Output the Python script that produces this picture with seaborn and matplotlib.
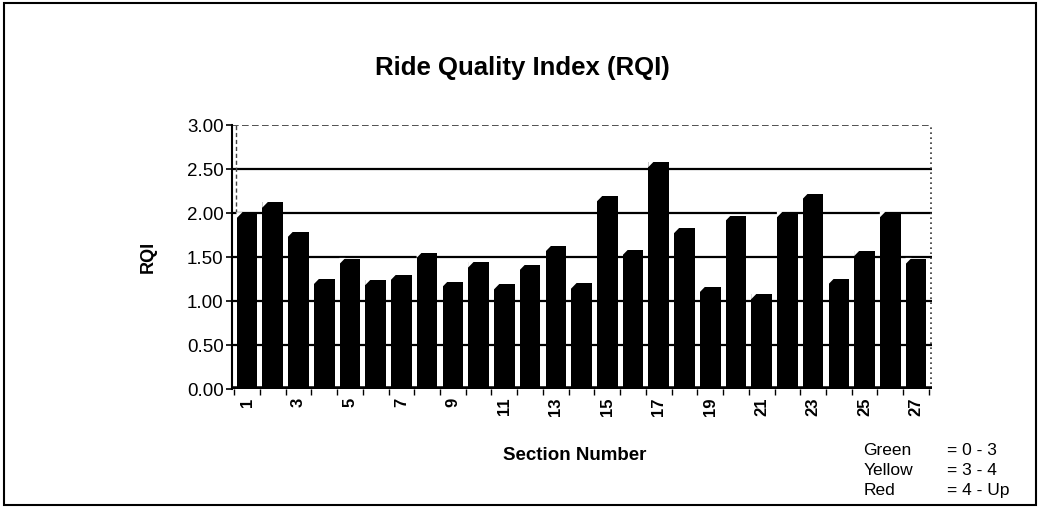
import matplotlib
matplotlib.use("Agg")
import matplotlib.pyplot as plt
from matplotlib.patches import Rectangle, Polygon
import seaborn as sns
import pandas as pd

# Ride Quality Index for each road section
sections = list(range(1, 28))
rqi = [2.00, 2.12, 1.79, 1.25, 1.48, 1.24, 1.30, 1.55, 1.22, 1.44,
       1.19, 1.41, 1.62, 1.20, 2.19, 1.58, 2.58, 1.83, 1.16, 1.97,
       1.08, 2.01, 2.22, 1.25, 1.57, 2.01, 1.48]
y_ticks = [0.0, 0.5, 1.0, 1.5, 2.0, 2.5, 3.0]
legend_names = ["Green", "Yellow", "Red"]
legend_ranges = ["= 0 - 3", "= 3 - 4", "= 4 - Up"]

df = pd.DataFrame({"Section": [str(s) for s in sections], "RQI": rqi})

sns.set_theme(style="white")
plt.rcParams["font.family"] = ["Liberation Sans", "DejaVu Sans"]
plt.rcParams["text.color"] = "black"
plt.rcParams["axes.labelcolor"] = "black"
plt.rcParams["xtick.color"] = "black"
plt.rcParams["ytick.color"] = "black"

fig = plt.figure(figsize=(10.4, 5.07), dpi=100)
ax = fig.add_axes([0.2231, 0.2327, 0.6731, 0.5207])

sns.barplot(data=df, x="Section", y="RQI", color="black", saturation=1,
            width=0.8, edgecolor="black", linewidth=0, ax=ax, zorder=3)

# bevelled top-left corner on each bar (pseudo 3-D look)
for p in ax.patches:
    x0, h, w = p.get_x(), p.get_height(), p.get_width()
    tri = Polygon([(x0 - 0.01, h + 0.01), (x0 + w * 0.28, h + 0.01),
                   (x0 - 0.01, h - 0.06)], closed=True,
                  facecolor="white", edgecolor="none", zorder=4)
    ax.add_patch(tri)

# back-wall gridlines
for v in y_ticks[1:-1]:
    ax.axhline(v, color="black", lw=1.6, zorder=1)
ax.axhline(y_ticks[-1], color="#333333", lw=1.2, ls=(0, (4, 2)), zorder=1)
ax.axhline(0, color="black", lw=4, zorder=5)

ax.set_xlim(-0.583, 26.62)
ax.set_ylim(0, 3.0)
ax.axvline(26.56, color="#333333", lw=1.2, ls=(0, (1, 2)), zorder=1)
ax.plot([-0.42, -0.42], [2.0, 3.0], color="#444444", lw=1.0,
        ls=(0, (3, 2)), zorder=1)

ax.set_yticks(y_ticks)
ax.set_yticklabels([f"{v:.2f}" for v in y_ticks], fontsize=13.5)
ax.tick_params(axis="y", direction="out", length=4, width=1.2,
               color="black", pad=2, left=True)

major = [i for i in range(len(sections)) if i % 2 == 0]
ax.set_xticks(major)
ax.set_xticklabels([str(sections[i]) for i in major], rotation=90,
                   fontsize=12, fontweight="bold")
ax.set_xticks([i + 0.5 for i in range(-1, len(sections))], minor=True)
ax.tick_params(axis="x", which="major", length=0, pad=6)
ax.tick_params(axis="x", which="minor", direction="out", length=4,
               width=1.0, color="black", bottom=True)

for side in ["top", "right", "bottom"]:
    ax.spines[side].set_visible(False)
ax.spines["left"].set_color("black")
ax.spines["left"].set_linewidth(1.5)

ax.set_xlabel("Section Number", fontsize=13.5, fontweight="bold")
ax.xaxis.set_label_coords(0.49, -0.22)
ax.set_ylabel("RQI", fontsize=13, fontweight="bold", labelpad=22)

fig.text(0.502, 0.866, "Ride Quality Index (RQI)", ha="center", va="center",
         fontsize=18.5, fontweight="bold")

for i, (name, rng) in enumerate(zip(legend_names, legend_ranges)):
    y = 0.112 - i * 0.040
    fig.text(0.830, y, name, ha="left", va="center", fontsize=12.5)
    fig.text(0.911, y, rng, ha="left", va="center", fontsize=12.5)

# outer frame
fig.patches.append(Rectangle((0.004, 0.004), 0.992, 0.99,
                             transform=fig.transFigure, fill=False,
                             edgecolor="black", lw=1.5))

fig.savefig("out.png", dpi=100, facecolor="white")
